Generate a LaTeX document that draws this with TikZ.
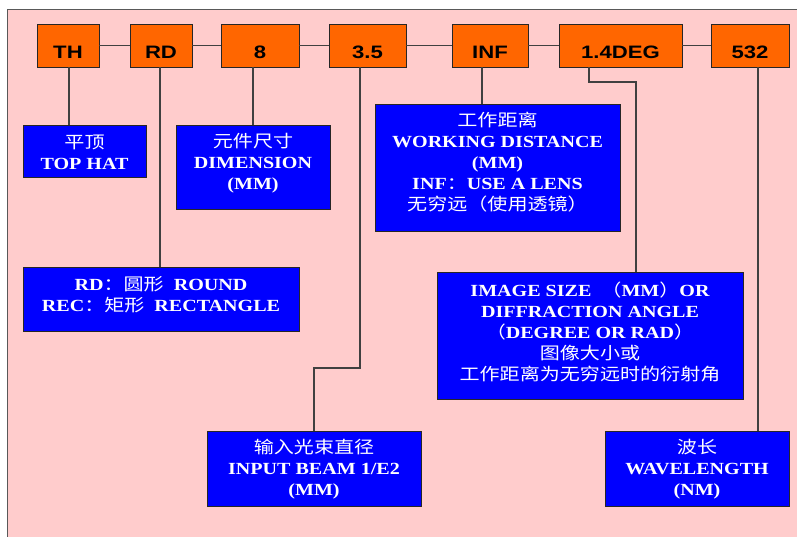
\documentclass[tikz,border=0pt]{standalone}
\usepackage{fontspec}
\usetikzlibrary{calc}
\newfontfamily\latserif[FakeStretch=1.18]{Liberation Serif}
\newfontfamily\latsans[FakeStretch=1.23]{Liberation Sans}
\newfontfamily\zhfont[FakeStretch=1.18]{Noto Sans CJK SC}
\newcommand\zhtxt[1]{{\zhfont\mdseries #1}}
\definecolor{pinkbg}{HTML}{FFCCCC}
\definecolor{orangebox}{HTML}{FF6600}
\definecolor{bluebox}{HTML}{0000FF}
\definecolor{linegray}{HTML}{404040}
\tikzset{
  obox/.style={draw=black!85, line width=0.8pt, fill=orangebox, minimum height=43pt, inner sep=0pt},
  otext/.style={font=\latsans\bfseries\fontsize{18pt}{20pt}\selectfont, text=black, inner sep=0pt, anchor=base},
  bbox/.style={draw=black!85, line width=0.8pt, fill=bluebox, inner sep=0pt},
  btext/.style={font=\latserif\bfseries\fontsize{17pt}{21pt}\selectfont, text=white, align=center, inner sep=0pt},
  conn/.style={draw=linegray, line width=1.2pt},
}
\begin{document}
\begin{tikzpicture}[x=1pt,y=-1pt]
\useasboundingbox (0,0) rectangle (797,536);
\clip (0,0) rectangle (797,536);
\fill[white] (0,0) rectangle (797,536);
\draw[fill=pinkbg, draw=black!65, line width=1pt] (7.5,9) rectangle (820,560);

% orange boxes
\node[obox, minimum width=62pt] (nth) at (68,45.5) {};
\node[obox, minimum width=62pt] (nrd) at (161,45.5) {};
\node[obox, minimum width=78pt] (n8) at (260,45.5) {};
\node[obox, minimum width=77pt] (n35) at (367.5,45.5) {};
\node[obox, minimum width=76pt] (ninf) at (490,45.5) {};
\node[obox, minimum width=123pt] (n14) at (620.5,45.5) {};
\node[obox, minimum width=78pt] (n532) at (750,45.5) {};

\node[otext] (tth) at ($(nth.center)+(0,12.5)$) {TH};
\node[otext] (trd) at ($(nrd.center)+(0,12.5)$) {RD};
\node[otext] (t8) at ($(n8.center)+(0,12.5)$) {8};
\node[otext] (t35) at ($(n35.center)+(0,12.5)$) {3.5};
\node[otext] (tinf) at ($(ninf.center)+(0,12.5)$) {INF};
\node[otext] (t14) at ($(n14.center)+(0,12.5)$) {1.4DEG};
\node[otext] (t532) at ($(n532.center)+(0,12.5)$) {532};

% horizontal links
\draw[conn] (nth.east) -- (nrd.west);
\draw[conn] (nrd.east) -- (n8.west);
\draw[conn] (n8.east) -- (n35.west);
\draw[conn] (n35.east) -- (ninf.west);
\draw[conn] (ninf.east) -- (n14.west);
\draw[conn] (n14.east) -- (n532.west);

% blue boxes
\node[bbox, minimum width=123pt, minimum height=52pt] (b1) at (84.5,151) {};
\node[bbox, minimum width=154pt, minimum height=84pt] (b3) at (253,167) {};
\node[bbox, minimum width=245pt, minimum height=127pt] (b4) at (497.5,167.5) {};
\node[bbox, minimum width=276pt, minimum height=64pt] (b2) at (161,299) {};
\node[bbox, minimum width=306pt, minimum height=127pt] (b6) at (590,335.5) {};
\node[bbox, minimum width=214pt, minimum height=75pt] (b5) at (314,468.5) {};
\node[bbox, minimum width=184pt, minimum height=75pt] (b7) at (697,468.5) {};

\node[btext] (l1) at (84.5,152.5) {\zhtxt{平顶}\\TOP HAT};
\node[btext] (l3) at (253,163) {\zhtxt{元件尺寸}\\DIMENSION\\(MM)};
\node[btext] (l4) at (497.5,162) {\zhtxt{工作距离}\\WORKING DISTANCE\\(MM)\\INF\zhtxt{：}USE A LENS\\\zhtxt{无穷远（使用透镜）}};
\node[btext] (l2) at (161,294.5) {RD\zhtxt{：圆形}\ \ ROUND\\REC\zhtxt{：矩形}\ \ RECTANGLE};
\node[btext] (l6) at (590,331.5) {IMAGE SIZE\ \ \zhtxt{（}MM\zhtxt{）}OR\\DIFFRACTION ANGLE\\\zhtxt{（}DEGREE OR RAD\zhtxt{）}\\\zhtxt{图像大小或}\\\zhtxt{工作距离为无穷远时的衍射角}};
\node[btext] (l5) at (314,469.5) {\zhtxt{输入光束直径}\\INPUT BEAM 1/E2\\(MM)};
\node[btext] (l7) at (697,469.5) {\zhtxt{波长}\\WAVELENGTH\\(NM)};

% vertical connectors
\coordinate (xth) at (69,0);
\coordinate (xrd) at (160,0);
\coordinate (x8) at (253,0);
\coordinate (k35) at (360,368);
\coordinate (xinf) at (482,0);
\coordinate (k14a) at (589,82);
\coordinate (k14b) at (636,82);
\coordinate (x532) at (758,0);

\draw[conn] (xth |- nth.south) -- (xth |- b1.north);
\draw[conn] (xrd |- nrd.south) -- (xrd |- b2.north);
\draw[conn] (x8 |- n8.south) -- (x8 |- b3.north);
\draw[conn] (k35 |- n35.south) -- (k35) -| (b5.north);
\draw[conn] (xinf |- ninf.south) -- (xinf |- b4.north);
\draw[conn] (k14a |- n14.south) -- (k14a) -- (k14b) -- (k14b |- b6.north);
\draw[conn] (x532 |- n532.south) -- (x532 |- b7.north);
\end{tikzpicture}
\end{document}
